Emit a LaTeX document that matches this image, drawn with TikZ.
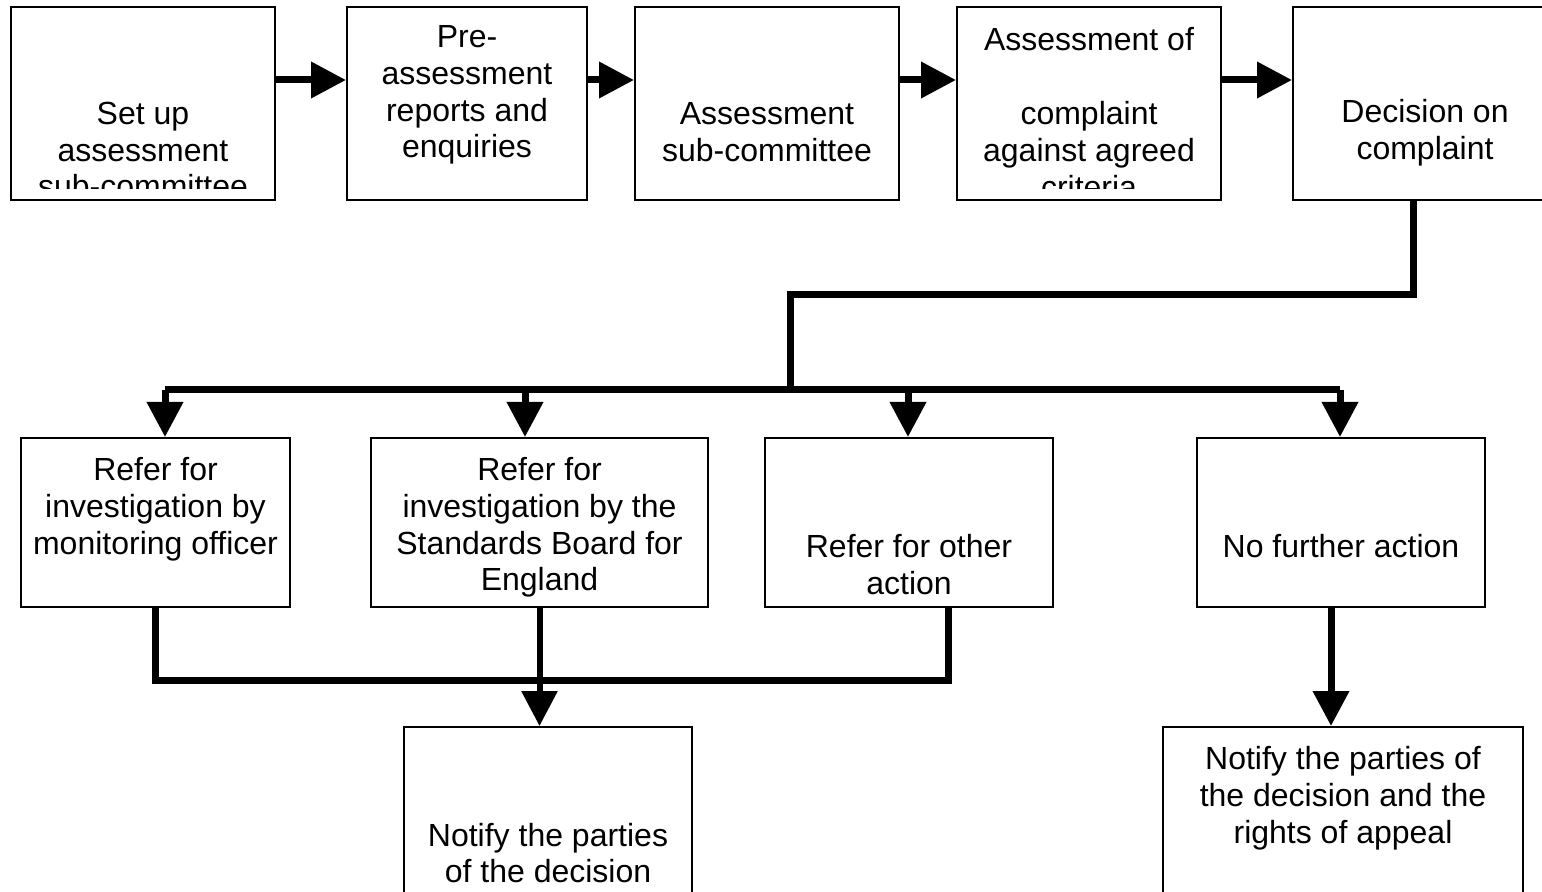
\documentclass[tikz,border=0pt]{standalone}
\usepackage{fontspec}
\setmainfont{Liberation Sans}
\usetikzlibrary{arrows.meta}

\begin{document}
\begin{tikzpicture}[x=0.5pt,y=-0.5pt,
   every node/.style={font=\fontsize{16}{18.4}\selectfont},
   blk/.style={draw,line width=1pt,inner sep=0pt},
   txt/.style={align=center,inner sep=0pt},
   link/.style={line width=3.5pt},
   flow/.style={line width=3.5pt,-{Triangle[length=17.5pt,width=17.5pt]}}]
\useasboundingbox (0,0) rectangle (1542,892);
% top row of boxes
\node[blk,minimum width=132pt,minimum height=96.5pt] (setup) at (143,103.5) {};
\node[blk,minimum width=120pt,minimum height=96.5pt] (pre)   at (467,103.5) {};
\node[blk,minimum width=132pt,minimum height=96.5pt] (sub)   at (767,103.5) {};
\node[blk,minimum width=132pt,minimum height=96.5pt] (crit)  at (1089,103.5) {};
\node[blk,minimum width=132pt,minimum height=96.5pt] (dec)   at (1425,103.5) {};
\begin{scope}
  \clip (11,7) rectangle (275,189);
  \node[txt] (setupT) at (143,150) {Set up\\assessment\\sub-committee};
\end{scope}
\node[txt] (preT) at (467,95) {Pre-\\assessment\\reports and\\enquiries};
\node[txt] (subT) at (767,132.5) {Assessment\\sub-committee};
\begin{scope}
  \clip (957,7) rectangle (1221,189);
  \node[txt] (critT) at (1089,113) {Assessment of\\[18.4pt]complaint\\against agreed\\criteria};
\end{scope}
\node[txt] (decT) at (1425,132.5) {Decision on\\complaint};
% outcome boxes
\node[blk,minimum width=134.5pt,minimum height=84.5pt] (refA) at (155.5,522.5) {};
\node[blk,minimum width=168.5pt,minimum height=84.5pt] (refB) at (539.5,522.5) {};
\node[blk,minimum width=144pt,minimum height=84.5pt]   (refC) at (909,522.5) {};
\node[blk,minimum width=144pt,minimum height=84.5pt]   (refD) at (1341,522.5) {};
\node[txt] (refAT) at (155.5,509) {Refer for\\investigation by\\monitoring officer};
\node[txt] (refBT) at (539.5,527.5) {Refer for\\investigation by the\\Standards Board for\\England};
\node[txt] (refCT) at (909,564.5) {Refer for other\\action};
\node[txt] (refDT) at (1341,546) {No further action};
% notify boxes
\node[blk,minimum width=144pt,minimum height=91.5pt] (notA) at (548,818.5) {};
\node[blk,minimum width=180pt,minimum height=91.5pt] (notB) at (1343,818.5) {};
\node[txt] (notAT) at (548,853) {Notify the parties\\of the decision};
\node[txt] (notBT) at (1343,798) {Notify the parties of\\the decision and the\\rights of appeal};
% top arrows
\draw[flow] ([yshift=11.75pt]setup.east) -- ([yshift=11.75pt]pre.west);
\draw[flow] ([yshift=11.75pt]pre.east) -- ([yshift=11.75pt]sub.west);
\draw[flow] ([yshift=11.75pt]sub.east) -- ([yshift=11.75pt]crit.west);
\draw[flow] ([yshift=11.75pt]crit.east) -- ([yshift=11.75pt]dec.west);
% decision to outcomes
\coordinate (dropDec) at ([xshift=-6pt]dec.south);
\coordinate (turn) at (790,295);
\coordinate (bus) at (790,390);
\coordinate (dropA) at (165,390);
\coordinate (dropB) at (525,390);
\coordinate (dropC) at (908,390);
\coordinate (dropD) at (1340,390);
\draw[link] (dropDec) |- (turn) -- (bus);
\draw[link] (dropA) -- (dropD);
\draw[flow] (dropA) -- (dropA |- refA.north);
\draw[flow] (dropB) -- (dropB |- refB.north);
\draw[flow] (dropC) -- (dropC |- refC.north);
\draw[flow] (dropD) -- (dropD |- refD.north);
% outcomes to notify
\coordinate (join) at (540,680);
\draw[link] (refA.south) |- (join) -| ([xshift=19.5pt]refC.south);
\draw[flow,line width=3pt] (refB.south) -- (refB.south |- notA.north);
\coordinate (dropF) at ([xshift=-5pt]refD.south);
\draw[flow] (dropF) -- (dropF |- notB.north);
\end{tikzpicture}
\end{document}
